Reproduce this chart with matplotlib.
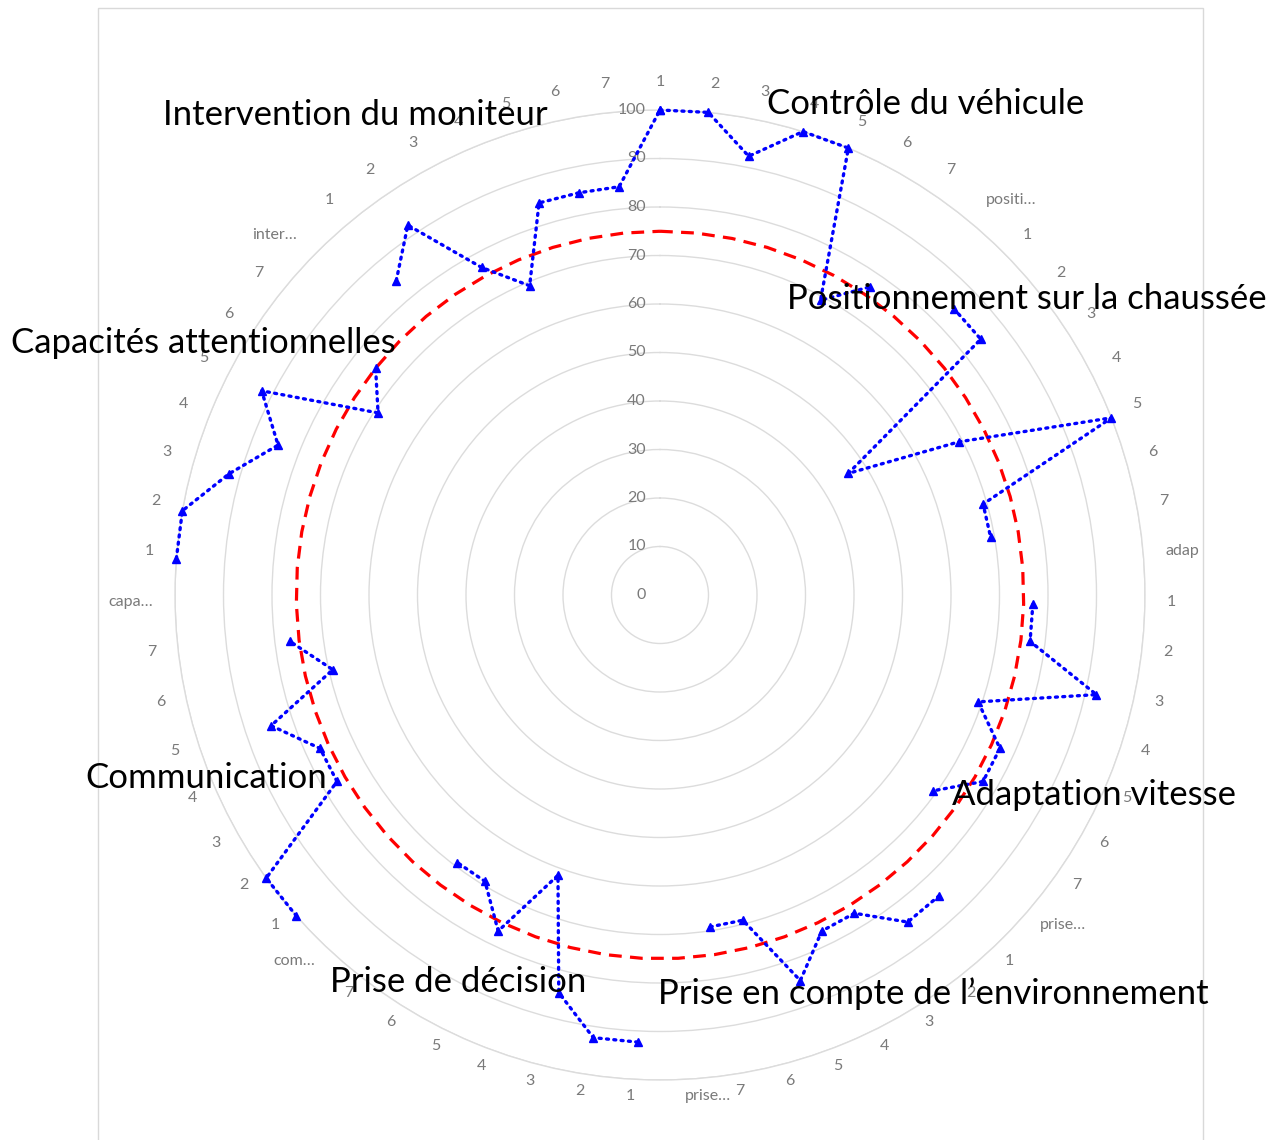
import numpy as np
import matplotlib
matplotlib.use("Agg")
import matplotlib.pyplot as plt
from matplotlib.patches import Rectangle
from matplotlib.transforms import offset_copy

plt.rcParams['font.family'] = ['Lato', 'DejaVu Sans']

# items 1..7 of each group, with a short group tag between the groups
items = ['1', '2', '3', '4', '5', '6', '7']
tags = ['positi…', 'adap', 'prise…', 'prise…', 'com…', 'capa…', 'inter…']

# percentages (one list per group, clockwise from the top)
controle = [100, 100, 92.3, 100, 100, 69.2, 76.9]
positionnement = [84.6, 84.6, 46.2, 69.2, 100, 69.2, 69.2]
adaptation = [76.9, 76.9, 92.3, 69.2, 76.9, 76.9, 69.2]
environnement = [84.6, 84.6, 76.9, 76.9, 84.6, 69.2, 69.2]
decision = [92.3, 92.3, 84.6, 61.5, 76.9, 69.2, 69.2]
communication = [100, 100, 76.9, 76.9, 84.6, 69.2, 76.9]
attention = [100, 100, 92.3, 84.6, 92.3, 69.2, 75]
intervention = [84.6, 92.3, 76.9, 69.2, 84.6, 84.6, 84.6]
seuil = 75

group_names = ['Contrôle du véhicule', 'Positionnement sur la chaussée',
               'Adaptation vitesse', 'Prise en compte de l’environnement',
               'Prise de décision', 'Communication',
               'Capacités attentionnelles', 'Intervention du moniteur']

groups = [controle, positionnement, adaptation, environnement,
          decision, communication, attention, intervention]

cats = []
vals = []
for i, g in enumerate(groups):
    if i > 0:
        cats.append(tags[i - 1])
        vals.append(np.nan)
    cats += items
    vals += g
vals = np.array(vals, dtype=float)
n = len(cats)
theta = np.arange(n) * 2 * np.pi / n

W, H = 1279, 1140
fig = plt.figure(figsize=(W / 100, H / 100), dpi=100)
cx, cy, R = 660, 595, 485
ax = fig.add_axes([(cx - R) / W, (H - cy - R) / H, 2 * R / W, 2 * R / H],
                  projection='polar')
ax.set_theta_zero_location('N')
ax.set_theta_direction(-1)
ax.set_ylim(0, 100)
ax.set_xticks([])
ax.set_yticks(range(10, 101, 10))
ax.set_yticklabels([])
ax.yaxis.grid(True, color='#dcdcdc', lw=1)
ax.spines['polar'].set_color('#dcdcdc')
ax.spines['polar'].set_linewidth(1)

# threshold series (closed)
th_c = np.append(theta, theta[0])
ax.plot(th_c, np.full(n + 1, seuil), color='red', lw=2.3,
        linestyle=(0, (4, 2.6)), zorder=3)

# data series (gaps at group tags, closed)
v_c = np.append(vals, vals[0])
ax.plot(th_c, v_c, color='blue', lw=2.4, linestyle=(0, (0.6, 1.6)),
        dash_capstyle='round', marker='^', markersize=6, zorder=4,
        clip_on=False)

# category labels
lab_tr = offset_copy(ax.transData, fig=fig, y=6, units='dots')
for t, c in zip(theta, cats):
    s = np.sin(t)
    ha = 'left' if s > 0.01 else ('right' if s < -0.01 else 'center')
    ax.text(t, 104.6, c, ha=ha, va='center', fontsize=11.5, color='#7a7a7a',
            transform=lab_tr, clip_on=False)

# radial value labels
r_tr = offset_copy(ax.transData, fig=fig, x=-14, units='dots')
for v in range(0, 101, 10):
    ax.text(0, v, str(v), ha='right', va='center', fontsize=11.5,
            color='#7a7a7a', transform=r_tr, clip_on=False)

# group titles
title_pos = [(767, 104), (787, 299), (952, 795), (658, 994),
             (330, 982), (85, 778), (11, 343), (163, 115)]
for name, (x, y) in zip(group_names, title_pos):
    fig.text(x / W, 1 - y / H, name, ha='left', va='center', fontsize=25,
             color='black', zorder=5)

fig.patches.append(Rectangle((98 / W, -0.02), (1203 - 98) / W, 1 - 8 / H + 0.02,
                             transform=fig.transFigure, fill=False,
                             edgecolor='#d9d9d9', lw=1))

fig.savefig('out.png', dpi=100)
